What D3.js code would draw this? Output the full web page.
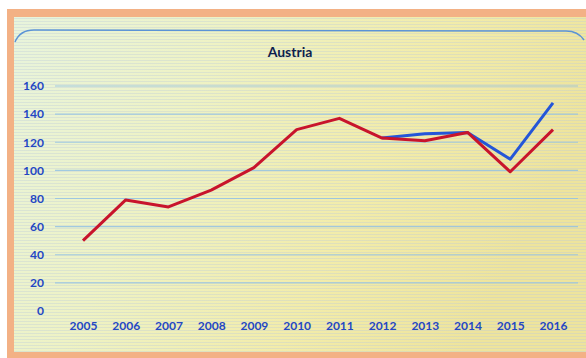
<!DOCTYPE html>
<html>
<head>
<meta charset="utf-8">
<script src="https://cdn.jsdelivr.net/npm/d3@7"></script>
<style>
  body { margin: 0; background: #fff; }
  svg { display: block; }
</style>
</head>
<body>
<div id="chart"></div>
<script>
// values
var years = ["2005", "2006", "2007", "2008", "2009", "2010", "2011", "2012", "2013", "2014", "2015", "2016"];
var redValues = [50, 79, 74, 86, 102, 129, 137, 123, 121, 127, 99, 129];
var blueYears = ["2012", "2013", "2014", "2015", "2016"];
var blueValues = [123, 126, 127, 108, 148];
var yTicks = [0, 20, 40, 60, 80, 100, 120, 140, 160];

var W = 586, H = 358;

var svg = d3.select("#chart")
  .append("svg")
    .attr("width", W)
    .attr("height", H);

var defs = svg.append("defs");
var grad = defs.append("linearGradient")
    .attr("id", "bg")
    .attr("x1", "0%").attr("y1", "0%")
    .attr("x2", "100%").attr("y2", "30%");
grad.append("stop").attr("offset", "0%").attr("stop-color", "#e8f4dc");
grad.append("stop").attr("offset", "35%").attr("stop-color", "#eef2c4");
grad.append("stop").attr("offset", "70%").attr("stop-color", "#f2ecaa");
grad.append("stop").attr("offset", "100%").attr("stop-color", "#eee49c");

// faint scan lines like the screen photo
var pat = defs.append("pattern")
    .attr("id", "scan")
    .attr("width", 6).attr("height", 3)
    .attr("patternUnits", "userSpaceOnUse");
pat.append("rect").attr("width", 6).attr("height", 1).attr("fill", "#b9c9d8").attr("opacity", 0.35);

// orange photo border
svg.append("rect")
    .attr("x", 7).attr("y", 9)
    .attr("width", W - 7).attr("height", H - 9)
    .attr("fill", "#f3b185");

svg.append("rect")
    .attr("x", 14).attr("y", 17)
    .attr("width", W - 14).attr("height", 335)
    .attr("fill", "url(#bg)");
svg.append("rect")
    .attr("x", 14).attr("y", 17)
    .attr("width", W - 14).attr("height", 335)
    .attr("fill", "url(#scan)");

// chart area frame (only the top edge shows)
svg.append("path")
    .attr("d", "M15,42 Q20,30 34,30 L566,31 Q578,31 584,40")
    .attr("fill", "none")
    .attr("stroke", "#5b93d6")
    .attr("stroke-width", 1.5);

var x = d3.scalePoint()
    .domain(years)
    .range([83, 553]);

var y = d3.scaleLinear()
    .domain([0, 160])
    .range([311, 86]);

// gridlines
svg.append("g")
  .selectAll("line")
  .data(yTicks.filter(function(d){ return d > 0; }))
  .enter()
  .append("line")
    .attr("x1", 55).attr("x2", 578)
    .attr("y1", function(d){ return y(d); })
    .attr("y2", function(d){ return y(d); })
    .attr("stroke", "#8fc0e6")
    .attr("stroke-width", 1.2)
    .attr("opacity", 0.8);

// y axis
var yAxis = svg.append("g")
    .attr("transform", "translate(44,0)")
    .call(d3.axisLeft(y).tickValues(yTicks).tickSize(0).tickPadding(0));
yAxis.select(".domain").remove();
yAxis.selectAll("text")
    .attr("fill", "#2447c4")
    .style("font-family", "Lato, 'Open Sans', sans-serif")
    .style("font-size", "12px")
    .style("font-weight", "bold");

// x axis
var xAxis = svg.append("g")
    .attr("transform", "translate(0,319)")
    .call(d3.axisBottom(x).tickSize(0).tickPadding(2));
xAxis.select(".domain").remove();
xAxis.selectAll("text")
    .attr("fill", "#2447c4")
    .style("font-family", "Lato, 'Open Sans', sans-serif")
    .style("font-size", "12px")
    .style("font-weight", "bold");

// title
svg.append("text")
    .attr("x", 290).attr("y", 57)
    .attr("text-anchor", "middle")
    .attr("fill", "#0e1f4d")
    .style("font-family", "Lato, 'Open Sans', sans-serif")
    .style("font-size", "14px")
    .style("font-weight", "bold")
    .text("Austria");

var line = d3.line()
    .x(function(d){ return x(d[0]); })
    .y(function(d){ return y(d[1]); });

var blueData = blueYears.map(function(yr, i){ return [yr, blueValues[i]]; });
var redData = years.map(function(yr, i){ return [yr, redValues[i]]; });

svg.append("path")
    .datum(blueData)
    .attr("d", line)
    .attr("fill", "none")
    .attr("stroke", "#2456d8")
    .attr("stroke-width", 3)
    .attr("stroke-linejoin", "round");

svg.append("path")
    .datum(redData)
    .attr("d", line)
    .attr("fill", "none")
    .attr("stroke", "#c8142c")
    .attr("stroke-width", 3)
    .attr("stroke-linejoin", "round");
</script>
</body>
</html>
